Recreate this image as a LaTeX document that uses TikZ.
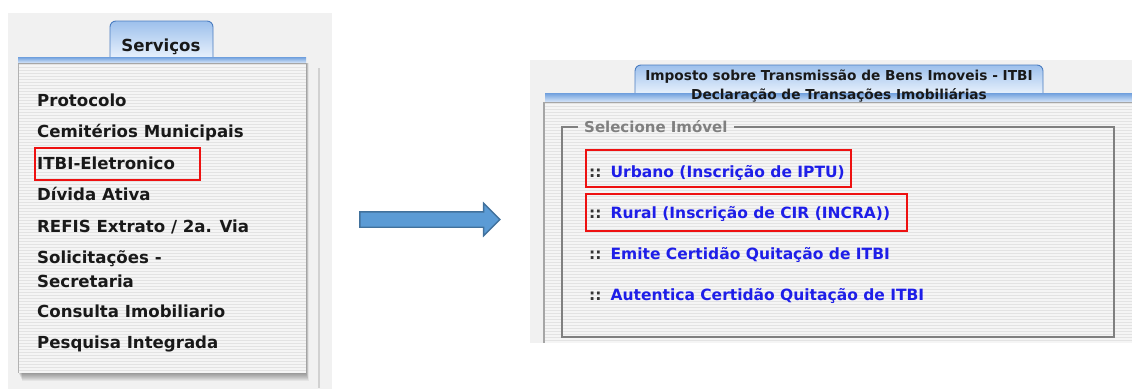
\documentclass[tikz,border=0pt]{standalone}
\usepackage{fontspec}
\setmainfont{DejaVu Sans}
\usepackage{xcolor}
\usepackage{tikz}
\usetikzlibrary{shapes,arrows,positioning,calc,fit}

\definecolor{pagegray}{HTML}{F1F1F1}
\definecolor{panelgray}{HTML}{F5F5F5}
\definecolor{stripegray}{HTML}{E3E3E3}
\definecolor{tabblue}{HTML}{4A7CC0}
\definecolor{tablight}{HTML}{E6F0FC}
\definecolor{tabmid}{HTML}{9DC0EC}
\definecolor{barblue}{HTML}{6F9FDD}
\definecolor{linkblue}{HTML}{1E1EE8}
\definecolor{arrowfill}{HTML}{5B9BD5}
\definecolor{arrowline}{HTML}{41719C}
\definecolor{markred}{HTML}{EE1111}

\tikzset{
  menuitem/.style={anchor=base west, inner sep=0pt, text=black!90,
    font=\fontsize{16.6}{20}\selectfont\bfseries},
  linkitem/.style={anchor=base west, inner sep=0pt, text=linkblue,
    font=\fontsize{15.5}{18}\selectfont\bfseries},
  redbox/.style={draw=markred, line width=1.6pt, inner sep=0pt},
  tabshape/.style={draw=tabblue, line width=0.9pt, top color=tabmid, bottom color=tablight},
  bluebar/.style={top color=barblue, bottom color=tablight!80!tabmid},
  stripe/.style={stripegray, line width=1pt},
  fieldset/.style={draw=black!50, line width=1.4pt},
  bigarrow/.style={single arrow, draw=arrowline, fill=arrowfill, line width=1.4pt,
    minimum height=140pt, minimum width=32pt, single arrow head extend=8.5pt,
    inner xsep=0pt, inner ysep=7pt}
}

\begin{document}
\begin{tikzpicture}[x=1pt,y=-1pt]
  \useasboundingbox (0,0) rectangle (1132,389);

  % left page: Servicos menu
  \fill[pagegray] (8,13) rectangle (332,389);
  \draw[black!18, line width=1.2pt] (319,68) -- (319,388);
  \foreach \k in {1,...,8}
    \fill[black, opacity=0.05] (18+\k/2,63) rectangle (306+\k/3,373+\k);
  \fill[panelgray] (18,63) rectangle (306,373);
  \foreach \yy in {64.5,67.5,...,372}
    \draw[stripe] (18,\yy) -- (306,\yy);
  \draw[black!30] (18,63) -- (18,373);
  \path[tabshape] (110,57) [rounded corners=6pt] -- (110,21) -- (213,21) [sharp corners] -- (213,57);
  \fill[bluebar] (18,57) rectangle (306,63);
  \draw[black!35] (18,63) -- (306,63);
  \node[anchor=base, inner sep=0pt, text=black!90, font=\fontsize{16.6}{20}\selectfont\bfseries]
    (servicos) at (161,51) {Serviços};

  \node[menuitem] (protocolo) at (37,106) {Protocolo};
  \node[menuitem] (cemiterios) at (37,137) {Cemitérios Municipais};
  \node[menuitem] (itbi) at (37,169) {ITBI-Eletronico};
  \node[menuitem] (divida) at (37,200) {Dívida Ativa};
  \node[menuitem] (refis) at (37,232) {REFIS Extrato / 2a. Via};
  \node[menuitem] (solicitacoes) at (37,263) {Solicitações -};
  \node[menuitem] (secretaria) at (37,287) {Secretaria};
  \node[menuitem] (consulta) at (37,317) {Consulta Imobiliario};
  \node[menuitem] (pesquisa) at (37,348) {Pesquisa Integrada};
  \node[redbox, fit={(35,148) (200,180)}] (itbibox) {};

  % arrow between the two screens
  \node[bigarrow] (seta) at (426,219.5) {};

  % right page: ITBI screen
  \fill[pagegray] (530,60) rectangle (1132,343);
  \fill[panelgray] (545,102) rectangle (1132,343);
  \foreach \yy in {103.5,106.5,...,342}
    \draw[stripe] (545,\yy) -- (1132,\yy);
  \draw[black!35, line width=1.5pt] (544,102) -- (544,343);
  \path[tabshape] (635,93) [rounded corners=6pt] -- (635,65) -- (1043,65) [sharp corners] -- (1043,93);
  \fill[bluebar] (545,93) rectangle (1132,102);
  \draw[black!35] (545,102) -- (1132,102);
  \node[align=center, inner sep=0pt, text=black!90, font=\fontsize{13.7}{18.5}\selectfont\bfseries]
    (titulo) at (839,86) {Imposto sobre Transmissão de Bens Imoveis - ITBI\\Declaração de Transações Imobiliárias};

  \node[anchor=west, inner xsep=6pt, text=black!50, font=\fontsize{15}{18}\selectfont\bfseries]
    (legenda) at (578,127) {Selecione Imóvel};
  \coordinate (fsTL) at (562,127);
  \coordinate (fsBR) at (1114,337);
  \draw[fieldset] (legenda.west) -- (fsTL) -- (fsTL |- fsBR) -- (fsBR) -- (fsBR |- fsTL) -- (legenda.east);

  \node[linkitem] (urbano) at (589,177) {{\color{black!80}::}\hspace{9pt}Urbano (Inscrição de IPTU)};
  \node[linkitem] (rural) at (589,218) {{\color{black!80}::}\hspace{9pt}Rural (Inscrição de CIR (INCRA))};
  \node[linkitem] (emite) at (589,259) {{\color{black!80}::}\hspace{9pt}Emite Certidão Quitação de ITBI};
  \node[linkitem] (autentica) at (589,300) {{\color{black!80}::}\hspace{9pt}Autentica Certidão Quitação de ITBI};
  \node[redbox, fit={(586,150) (851,187)}] (urbanobox) {};
  \node[redbox, fit={(586,194) (907,231)}] (ruralbox) {};
\end{tikzpicture}
\end{document}
